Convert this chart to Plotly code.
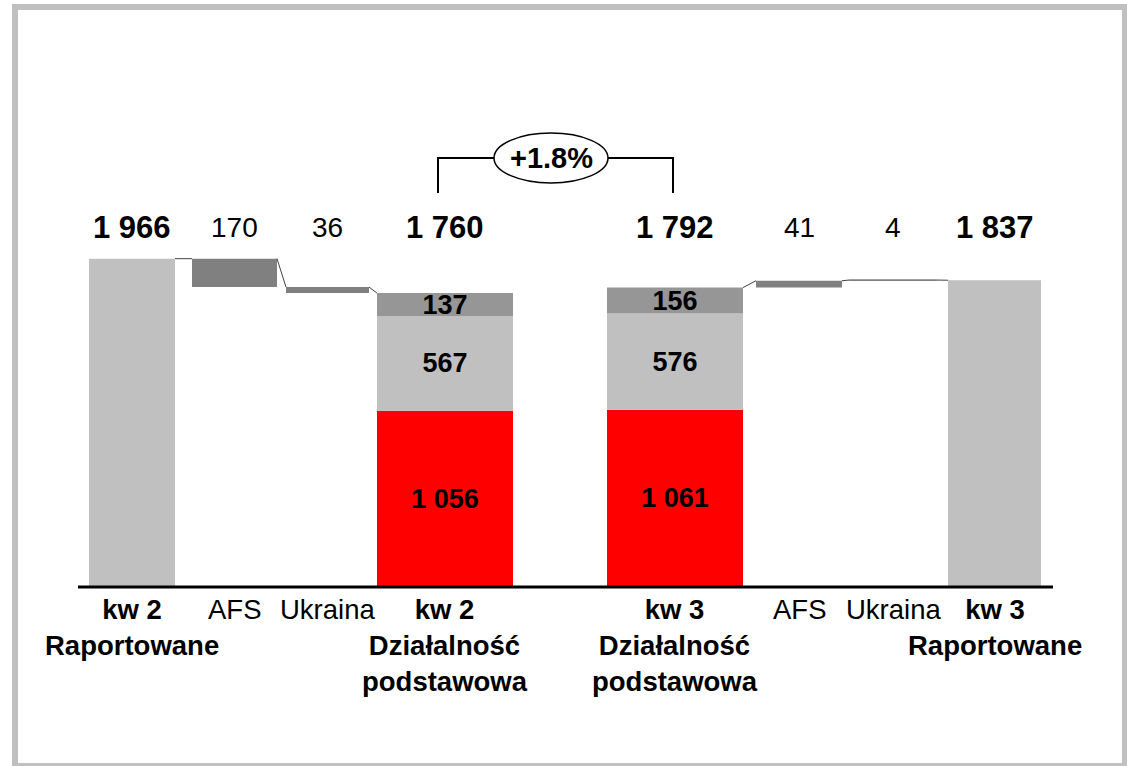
import plotly.graph_objects as go

# ---------------- data ----------------
categories = ["kw 2<br>Raportowane", "AFS", "Ukraina", "kw 2<br>Działalność<br>podstawowa",
              "kw 3<br>Działalność<br>podstawowa", "AFS", "Ukraina", "kw 3<br>Raportowane"]
category_bold = [True, False, False, True, True, False, False, True]
kw2_reported = 1966
afs_q2 = 170        # decrease
ukraina_q2 = 36     # decrease
core_q2 = [1056, 567, 137]
core_q3 = [1061, 576, 156]
core_totals = [1760, 1792]
afs_q3 = 41         # increase
ukraina_q3 = 4      # increase
kw3_reported = 1837
growth_label = "+1.8%"

# ---------------- layout geometry (pixels) ----------------
W, H = 1127, 766
BASE_PX = 587
SCALE = 0.167  # px per unit
x_centers = [132, 234.5, 327.5, 445, 675, 799, 893, 994.5]
widths = [86, 85, 83, 136, 136, 86, 88, 93]

LIGHT = "#c0c0c0"
DARK = "#808080"
MID = "#969696"
RED = "#ff0000"
FONT = "Arial, Liberation Sans, sans-serif"

def py(p):
    return 1 - p / H

def fmt(v):
    return f"{v:,}".replace(",", " ")

fig = go.Figure()

core_q2_total = sum(core_q2)
core_q3_total = sum(core_q3)

singles = [
    (0, 0, kw2_reported, LIGHT),
    (1, kw2_reported - afs_q2, afs_q2, DARK),
    (2, kw2_reported - afs_q2 - ukraina_q2, ukraina_q2, DARK),
    (5, core_q3_total, afs_q3, DARK),
    (6, core_q3_total + afs_q3, ukraina_q3, DARK),
    (7, 0, kw3_reported, LIGHT),
]
for i, b, h, c in singles:
    fig.add_trace(go.Bar(x=[x_centers[i]], y=[h], base=[b], width=[widths[i]],
                         marker=dict(color=c, line=dict(width=0)), hoverinfo="skip"))

seg_colors = [RED, LIGHT, MID]
for idx, segs in ((3, core_q2), (4, core_q3)):
    b = 0
    for v, c in zip(segs, seg_colors):
        fig.add_trace(go.Bar(x=[x_centers[idx]], y=[v], base=[b], width=[widths[idx]],
                             marker=dict(color=c, line=dict(width=0)),
                             text=[f"<b>{fmt(v)}</b>"], textposition="inside",
                             insidetextanchor="middle",
                             textfont=dict(family=FONT, size=27, color="black"),
                             hoverinfo="skip"))
        b += v

def edge(i, side):
    return x_centers[i] + side * widths[i] / 2

lvl1 = kw2_reported
lvl2 = kw2_reported - afs_q2
conn = [
    ((edge(0, 1), lvl1), (edge(1, -1), lvl1)),
    ((edge(1, 1), lvl1), (edge(2, -1), lvl2)),
    ((edge(2, 1), lvl2), (edge(3, -1), core_q2_total)),
    ((edge(4, 1), core_q3_total), (edge(5, -1), core_q3_total + afs_q3)),
    ((edge(5, 1), core_q3_total + afs_q3), (edge(6, -1), core_q3_total + afs_q3 + ukraina_q3)),
    ((edge(6, 1), core_q3_total + afs_q3 + ukraina_q3), (edge(7, -1), kw3_reported)),
]
cx, cy = [], []
for (a, b) in conn:
    cx += [a[0], b[0], None]
    cy += [a[1], b[1], None]
fig.add_trace(go.Scatter(x=cx, y=cy, mode="lines", line=dict(color="#404040", width=1),
                         hoverinfo="skip"))
fig.add_trace(go.Scatter(x=[edge(6, -1), edge(6, 1)],
                         y=[core_q3_total + afs_q3 + ukraina_q3] * 2,
                         mode="lines", line=dict(color=DARK, width=1.5), hoverinfo="skip"))

top_vals = [kw2_reported, afs_q2, ukraina_q2, core_totals[0], core_totals[1], afs_q3, ukraina_q3, kw3_reported]
annotations = []
for i, v in enumerate(top_vals):
    if category_bold[i]:
        t, size = f"<b>{fmt(v)}</b>", 31
    else:
        t, size = fmt(v), 28
    annotations.append(dict(x=x_centers[i], y=py(227), xref="x", yref="paper", text=t,
                            showarrow=False, xanchor="center", yanchor="middle",
                            font=dict(family=FONT, size=size, color="black")))

for i, c in enumerate(categories):
    t = f"<b>{c}</b>" if category_bold[i] else c
    annotations.append(dict(x=x_centers[i], y=py(592), xref="x", yref="paper", text=t,
                            showarrow=False, xanchor="center", yanchor="top", align="center",
                            font=dict(family=FONT, size=27.5, color="black")))

annotations.append(dict(x=551, y=py(158), xref="x", yref="paper", text=f"<b>{growth_label}</b>",
                        showarrow=False, xanchor="center", yanchor="middle",
                        font=dict(family=FONT, size=29, color="black")))

shapes = [
    dict(type="line", xref="x", yref="y", x0=78, x1=1053, y0=0, y1=0,
         line=dict(color="black", width=3)),
    dict(type="path", xref="x", yref="paper",
         path=f"M 438,{py(193)} L 438,{py(158)} L 494,{py(158)} M 608,{py(158)} L 673,{py(158)} L 673,{py(193)}",
         line=dict(color="black", width=2)),
    dict(type="circle", xref="x", yref="paper", x0=494, x1=608, y0=py(183), y1=py(133),
         line=dict(color="black", width=1.5), fillcolor="white"),
    dict(type="rect", xref="x", yref="paper", x0=15, x1=1125, y0=py(766), y1=py(7),
         line=dict(color=LIGHT, width=6)),
]

fig.update_layout(
    width=W, height=H, margin=dict(l=0, r=0, t=0, b=0),
    paper_bgcolor="white", plot_bgcolor="white", showlegend=False, barmode="overlay",
    xaxis=dict(range=[0, W], visible=False, fixedrange=True),
    yaxis=dict(range=[(BASE_PX - H) / SCALE, BASE_PX / SCALE],
               visible=False, fixedrange=True),
    annotations=annotations, shapes=shapes,
    uniformtext=dict(minsize=20, mode="show"),
)

fig.write_html("out.html", config={"displayModeBar": False},
               post_script="document.body.style.margin='0px';document.body.style.overflow='hidden';")
